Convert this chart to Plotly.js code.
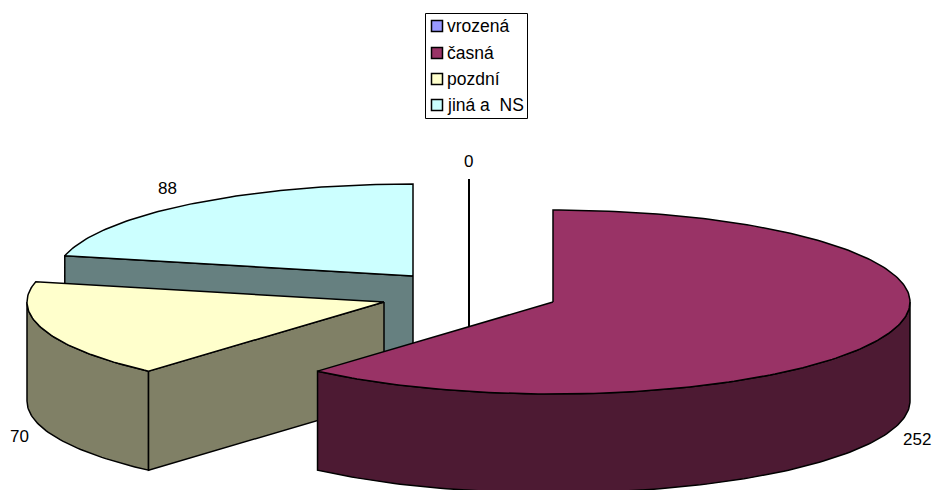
<!DOCTYPE html>
<html>
<head>
<meta charset="utf-8">
<script src="https://cdn.plot.ly/plotly-3.0.1.min.js"></script>
<style>html,body{margin:0;padding:0;background:#fff}#chart{width:935px;height:490px}</style>
</head>
<body>
<div id="chart"></div>
<script>
// Data
var categories = ["vrozená", "časná", "pozdní", "jiná a  NS"];
var values = [0, 252, 70, 88];
var topColors = ["#9999FF", "#993366", "#FFFFCC", "#CCFFFF"];
var wallColors = ["#4D4D80", "#4D1A33", "#808066", "#668080"];
// Exploded slice centres in the picture's pixel scale
var centersX = [469, 553, 384, 413];
var centersY = [271, 302, 302, 276];
var labelX = [468, 917, 19, 167];
var labelY = [161, 439, 436, 188];
var legendRowY = [26, 53, 79, 105];

var RX = 357, RY = 92, DEPTH = 99;
var total = values.reduce(function (a, b) { return a + b; }, 0);

// Cumulative slice angles, clockwise from 12 o'clock
var startAngles = [], endAngles = [];
values.reduce(function (acc, v, i) {
  startAngles[i] = acc;
  endAngles[i] = acc + v / total * 360;
  return endAngles[i];
}, 0);

function rim(cx, cy, deg, dy) {
  var r = deg * Math.PI / 180;
  return [cx + RX * Math.sin(r), cy - RY * Math.cos(r) + (dy || 0)];
}
function arc(cx, cy, a0, a1, dy) {
  var pts = [], n = Math.max(1, Math.ceil(Math.abs(a1 - a0)));
  for (var k = 0; k <= n; k++) pts.push(rim(cx, cy, a0 + (a1 - a0) * k / n, dy));
  return pts;
}
function poly(name, pts, color) {
  return {
    type: "scatter", mode: "lines", name: name, showlegend: false,
    x: pts.map(function (p) { return p[0]; }),
    y: pts.map(function (p) { return p[1]; }),
    fill: "toself", fillcolor: color,
    line: { color: "#000000", width: 1.5 },
    hoverinfo: "name"
  };
}
function topFace(i) {
  var c = [centersX[i], centersY[i]];
  return poly(categories[i], [c].concat(arc(c[0], c[1], startAngles[i], endAngles[i])).concat([c]), topColors[i]);
}
// Flat wall running from the centre to a rim angle
function cutWall(i, deg) {
  var cx = centersX[i], cy = centersY[i], p = rim(cx, cy, deg);
  return poly(categories[i], [[cx, cy], p, [p[0], p[1] + DEPTH], [cx, cy + DEPTH], [cx, cy]], wallColors[i]);
}
// Curved outer wall between two rim angles
function outerWall(i, a0, a1) {
  var upper = arc(centersX[i], centersY[i], a0, a1);
  var lower = arc(centersX[i], centersY[i], a1, a0, DEPTH);
  return poly(categories[i], upper.concat(lower, [upper[0]]), wallColors[i]);
}
// A slice of value 0 has no area: it collapses to a single upright line
function zeroSlice(i) {
  var p = rim(centersX[i], centersY[i], startAngles[i]);
  return {
    type: "scatter", mode: "lines", name: categories[i], showlegend: false,
    x: [p[0], p[0]], y: [p[1], centersY[i] + DEPTH],
    line: { color: "#000000", width: 2 }, hoverinfo: "name"
  };
}

var data = [
  cutWall(3, startAngles[3]),
  topFace(3),
  zeroSlice(0),
  outerWall(2, startAngles[2], 270),
  cutWall(2, startAngles[2]),
  topFace(2),
  outerWall(1, 90, endAngles[1]),
  topFace(1)
];

var FONT = "Liberation Sans, Arial, sans-serif";
var annotations = values.map(function (v, i) {
  return {
    xref: "x", yref: "y", x: labelX[i], y: labelY[i], text: String(v),
    showarrow: false, xanchor: "center", yanchor: "middle", borderpad: 0,
    font: { family: FONT, size: 17, color: "#000000" }
  };
});
var shapes = [{
  type: "rect", xref: "x", yref: "y", x0: 425.5, x1: 527.5, y0: 13.5, y1: 118.5,
  line: { color: "#000000", width: 1 }, fillcolor: "#FFFFFF"
}];
categories.forEach(function (c, i) {
  shapes.push({
    type: "rect", xref: "x", yref: "y", x0: 431.5, x1: 442.5,
    y0: legendRowY[i] - 5.5, y1: legendRowY[i] + 5.5,
    line: { color: "#000000", width: 1.5 }, fillcolor: topColors[i]
  });
  annotations.push({
    xref: "x", yref: "y", x: 446, y: legendRowY[i],
    text: c.replace(/  /g, " \u00a0"),
    showarrow: false, xanchor: "left", yanchor: "middle", borderpad: 0,
    font: { family: FONT, size: 17.5, color: "#000000" }
  });
});

var layout = {
  width: 935, height: 490,
  margin: { l: 0, r: 0, t: 0, b: 0 },
  paper_bgcolor: "#FFFFFF", plot_bgcolor: "#FFFFFF",
  showlegend: false,
  xaxis: { range: [0, 935], visible: false, fixedrange: true },
  yaxis: { range: [490, 0], visible: false, fixedrange: true },
  shapes: shapes,
  annotations: annotations
};
Plotly.newPlot("chart", data, layout, { displayModeBar: false });
</script>
</body>
</html>
